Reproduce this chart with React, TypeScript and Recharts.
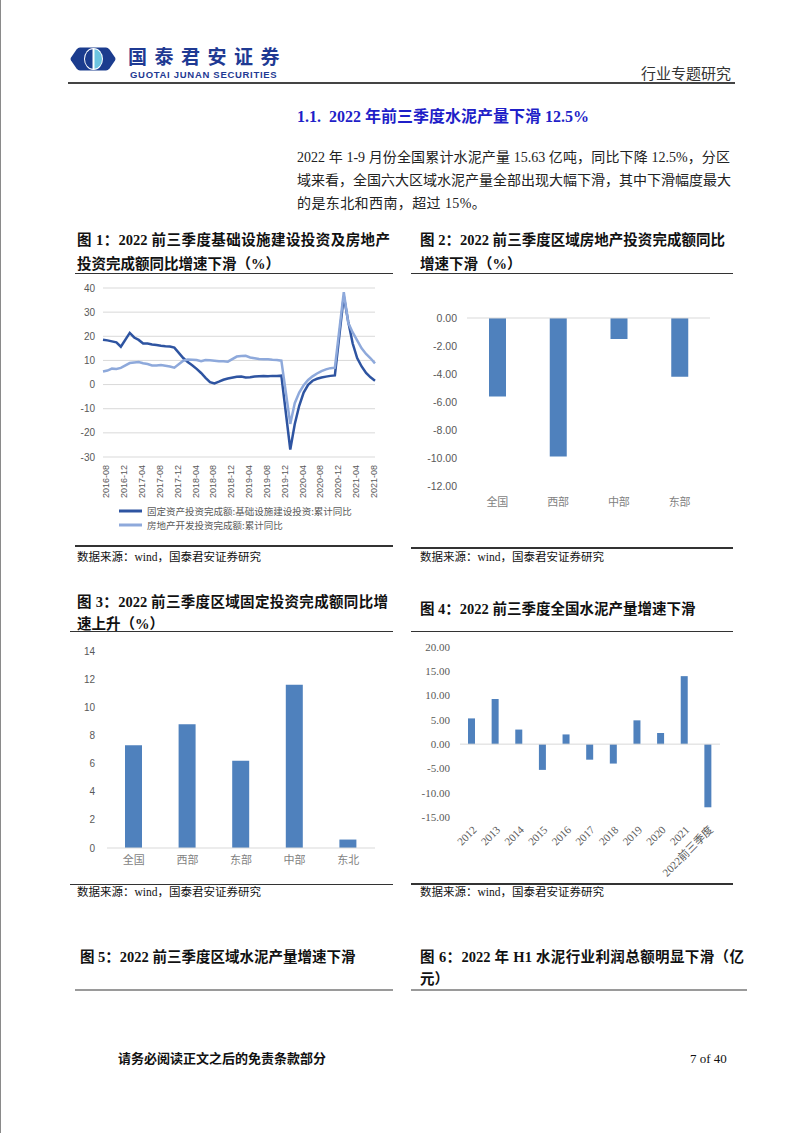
import React from 'react'
import {
  LineChart,
  Line,
  BarChart,
  Bar,
  XAxis,
  YAxis,
  CartesianGrid,
  Legend,
  ReferenceLine,
} from 'recharts'

const SERIF = "'Liberation Serif', 'Times New Roman', 'Noto Sans CJK SC', serif"
const SANS = "'Liberation Sans', Arial, 'Noto Sans CJK SC', sans-serif"
const CJK = "'Noto Sans CJK SC', 'Liberation Sans', sans-serif"

const DARK_BLUE = '#2E54A1'
const LIGHT_BLUE = '#8EA9DB'
const BAR_BLUE = '#4F81BD'
const AXIS_TEXT = '#595959'
const GRID = '#D9D9D9'

// 图1：月度累计同比（1月无数据）
const months = [
  '2016-08', '2016-09', '2016-10', '2016-11', '2016-12',
  '2017-01', '2017-02', '2017-03', '2017-04', '2017-05', '2017-06', '2017-07', '2017-08', '2017-09', '2017-10', '2017-11', '2017-12',
  '2018-01', '2018-02', '2018-03', '2018-04', '2018-05', '2018-06', '2018-07', '2018-08', '2018-09', '2018-10', '2018-11', '2018-12',
  '2019-01', '2019-02', '2019-03', '2019-04', '2019-05', '2019-06', '2019-07', '2019-08', '2019-09', '2019-10', '2019-11', '2019-12',
  '2020-01', '2020-02', '2020-03', '2020-04', '2020-05', '2020-06', '2020-07', '2020-08', '2020-09', '2020-10', '2020-11', '2020-12',
  '2021-01', '2021-02', '2021-03', '2021-04', '2021-05', '2021-06', '2021-07', '2021-08', '2021-09',
]
const infraYoY = [
  18.6, 18.3, 17.9, 17.5, 15.7,
  null, 21.4, 19.5, 18.5, 17.0, 17.0, 16.6, 16.4, 16.1, 15.9, 15.8, 15.3,
  null, 11.0, 9.3, 8.0, 6.5, 4.8, 2.8, 1.0, 0.5, 1.2, 2.0, 2.5,
  null, 3.2, 3.3, 2.9, 3.0, 3.3, 3.4, 3.5, 3.4, 3.6, 3.6, 3.7,
  null, -26.9, -16.4, -8.8, -3.3, -0.1, 1.6, 2.4, 2.9, 3.3, 3.6, 3.8,
  null, 36.6, 26.0, 17.0, 11.0, 7.5, 4.8, 3.0, 1.6,
]
const realtyYoY = [
  5.4, 5.8, 6.6, 6.5, 6.9,
  null, 8.9, 9.1, 9.3, 8.8, 8.5, 7.9, 7.9, 8.1, 7.8, 7.5, 7.0,
  null, 9.9, 10.4, 10.3, 10.2, 9.7, 10.2, 10.1, 9.9, 9.7, 9.7, 9.5,
  null, 11.6, 11.8, 11.9, 11.2, 10.9, 10.6, 10.5, 10.5, 10.3, 10.2, 9.9,
  null, -16.3, -7.7, -3.3, -0.3, 1.9, 3.4, 4.6, 5.6, 6.3, 6.8, 7.0,
  null, 38.3, 25.6, 21.6, 18.3, 15.0, 12.7, 10.9, 8.8,
]
const lineTicks = [-30, -20, -10, 0, 10, 20, 30, 40]

// 图2
const regions2 = ['全国', '西部', '中部', '东部']
const realtyByRegion = [-5.6, -9.9, -1.5, -4.2]
const ticks2 = [-12, -10, -8, -6, -4, -2, 0]

// 图3
const regions3 = ['全国', '西部', '东部', '中部', '东北']
const fixedInvByRegion = [7.3, 8.8, 6.2, 11.6, 0.6]
const ticks3 = [0, 2, 4, 6, 8, 10, 12, 14]

// 图4
const years4 = ['2012', '2013', '2014', '2015', '2016', '2017', '2018', '2019', '2020', '2021', '2022前三季度']
const cementYoY = [5.3, 9.3, 3.0, -5.3, 2.0, -3.2, -4.0, 4.9, 2.3, 14.0, -13.0]
const ticks4 = [-15, -10, -5, 0, 5, 10, 15, 20]

const lineData = months.map((m, i) => ({ month: m, infra: infraYoY[i], realty: realtyYoY[i] }))
const data2 = regions2.map((r, i) => ({ region: r, value: realtyByRegion[i] }))
const data3 = regions3.map((r, i) => ({ region: r, value: fixedInvByRegion[i] }))
const data4 = years4.map((y, i) => ({ year: y, value: cementYoY[i] }))

function T({
  x, y, w, size = 14, bold = false, color = '#111', family = SERIF, justify = false, spacing, lh = 1.2, children,
}: {
  x: number; y: number; w?: number; size?: number; bold?: boolean; color?: string
  family?: string; justify?: boolean; spacing?: number; lh?: number; children: React.ReactNode
}) {
  return (
    <div
      style={{
        position: 'absolute',
        left: x,
        top: y - (size * lh) / 2,
        width: w,
        fontSize: size,
        lineHeight: `${size * lh}px`,
        fontWeight: bold ? 700 : 400,
        color,
        fontFamily: family,
        whiteSpace: 'nowrap',
        letterSpacing: spacing,
        textAlign: justify ? 'justify' : 'left',
        textAlignLast: justify ? 'justify' : 'left',
      }}
    >
      {children}
    </div>
  )
}

function Rule({ x, y, w, h = 1.5, color = '#333' }: { x: number; y: number; w: number; h?: number; color?: string }) {
  return <div style={{ position: 'absolute', left: x, top: y, width: w, height: h, background: color }} />
}

function renderLegend(props: any) {
  const items = props.payload || []
  return (
    <div style={{ paddingLeft: 40, height: 34, paddingTop: 1, fontFamily: CJK, fontSize: 9.5, color: AXIS_TEXT }}>
      {items.map((it: any) => (
        <div key={it.value} style={{ display: 'flex', alignItems: 'center', height: 14 }}>
          <svg width={23} height={4}>
            <line x1={0} y1={2} x2={23} y2={2} stroke={it.color} strokeWidth={3} />
          </svg>
          <span style={{ marginLeft: 5 }}>{it.value}</span>
        </div>
      ))}
    </div>
  )
}

function Logo() {
  return (
    <svg width={46} height={24} style={{ position: 'absolute', left: 70, top: 47 }} viewBox="0 0 46 24">
      <path d="M10 0.5 L36 0.5 Q38 0.5 39.5 2.5 L45 10.5 Q46 12 45 13.5 L39.5 21.5 Q38 23.5 36 23.5 L10 23.5 Q8 23.5 6.5 21.5 L1 13.5 Q0 12 1 10.5 L6.5 2.5 Q8 0.5 10 0.5 Z" fill="#1B3C8E" />
      <ellipse cx={23.5} cy={12} rx={9.5} ry={11} fill="#FFFFFF" />
      <path d="M24.5 2.3 A7.5 9.7 0 0 1 24.5 21.7 Z" fill="#6CC4E0" />
      <path d="M22.5 2.3 A7.5 9.7 0 0 0 22.5 21.7 Z" fill="#1B3C8E" />
    </svg>
  )
}

export default function App() {
  const axisTick = { fontSize: 10, fill: AXIS_TEXT, fontFamily: SANS }
  return (
    <div style={{ position: 'absolute', left: 0, top: 0, width: 802, height: 1133, background: '#fff', overflow: 'hidden' }}>
      <div style={{ position: 'absolute', left: 0, top: 0, width: 1, height: 1133, background: '#8a8a8a' }} />

      {/* 页眉 */}
      <Logo />
      <T x={128} y={55.3} size={19} lh={1} bold color="#1F3A93" family={CJK} spacing={7.5}>国泰君安证券</T>
      <T x={130} y={74.6} size={9.5} lh={1} bold color="#1F3A93" family={SANS} spacing={0.7}>GUOTAI JUNAN SECURITIES</T>
      <T x={641} y={73} size={15} color="#333" family={CJK}>行业专题研究</T>
      <Rule x={68} y={82} w={667} h={2} color="#444" />

      {/* 标题与正文 */}
      <T x={297} y={117} size={16} bold color="#1F1FC8">1.1.&nbsp;&nbsp;2022 年前三季度水泥产量下滑 12.5%</T>
      <T x={297} y={158} w={433} size={14} justify color="#222">2022 年 1-9 月份全国累计水泥产量 15.63 亿吨，同比下降 12.5%，分区</T>
      <T x={297} y={181} w={433} size={14} justify color="#222">域来看，全国六大区域水泥产量全部出现大幅下滑，其中下滑幅度最大</T>
      <T x={297} y={204} size={14} color="#222" spacing={0.4}>的是东北和西南，超过 15%。</T>

      {/* 图1 */}
      <T x={77} y={241} w={313} size={14.5} bold justify>图 1：2022 前三季度基础设施建设投资及房地产</T>
      <T x={77} y={265} size={14.5} bold>投资完成额同比增速下滑（%）</T>
      <Rule x={75} y={272.5} w={318} />
      <div style={{ position: 'absolute', left: 75, top: 280 }}>
        <LineChart width={320} height={262} data={lineData} margin={{ top: 8, right: 20, left: 4, bottom: 4 }}>
          <CartesianGrid vertical={false} stroke={GRID} />
          <XAxis
            dataKey="month"
            interval={3}
            angle={-90}
            textAnchor="end"
            height={46}
            tickLine={false}
            axisLine={false}
            tick={{ fontSize: 9, fill: AXIS_TEXT, fontFamily: SANS }}
          />
          <YAxis
            domain={[-30, 40]}
            ticks={lineTicks}
            interval={0}
            width={24}
            tickLine={false}
            axisLine={false}
            tick={axisTick}
          />
          <Legend verticalAlign="bottom" align="left" content={renderLegend} />
          <Line
            type="linear"
            dataKey="infra"
            name="固定资产投资完成额:基础设施建设投资:累计同比"
            stroke={DARK_BLUE}
            strokeWidth={2.5}
            dot={false}
            connectNulls
            isAnimationActive={false}
          />
          <Line
            type="linear"
            dataKey="realty"
            name="房地产开发投资完成额:累计同比"
            stroke={LIGHT_BLUE}
            strokeWidth={2.5}
            dot={false}
            connectNulls
            isAnimationActive={false}
          />
        </LineChart>
      </div>
      <Rule x={75} y={545} w={318} />
      <T x={77} y={558} size={11.5}>数据来源：wind，国泰君安证券研究</T>

      {/* 图2 */}
      <T x={420} y={241} w={305} size={14.5} bold justify>图 2：2022 前三季度区域房地产投资完成额同比</T>
      <T x={420} y={265} size={14.5} bold>增速下滑（%）</T>
      <Rule x={411} y={272.5} w={322} />
      <div style={{ position: 'absolute', left: 405, top: 280 }}>
        <BarChart width={330} height={240} data={data2} margin={{ top: 38, right: 25, left: 0, bottom: 4 }}>
          <XAxis
            dataKey="region"
            height={30}
            tickLine={false}
            axisLine={false}
            tickMargin={6}
            tick={{ fontSize: 11, fill: '#7F7F7F', fontFamily: CJK }}
          />
          <YAxis
            domain={[-12, 0]}
            ticks={ticks2}
            interval={0}
            width={62}
            tickMargin={4}
            tickFormatter={(v: number) => v.toFixed(2)}
            tickLine={false}
            axisLine={false}
            tick={{ ...axisTick, fontSize: 10.5 }}
          />
          <ReferenceLine y={0} stroke={GRID} />
          <Bar dataKey="value" fill={BAR_BLUE} barSize={17} isAnimationActive={false} />
        </BarChart>
      </div>
      <Rule x={411} y={547} w={322} />
      <T x={420} y={558} size={11.5}>数据来源：wind，国泰君安证券研究</T>

      {/* 图3 */}
      <T x={77} y={603} w={311} size={14.5} bold justify>图 3：2022 前三季度区域固定投资完成额同比增</T>
      <T x={77} y={625} size={14.5} bold>速上升（%）</T>
      <Rule x={70} y={630.5} w={323} />
      <div style={{ position: 'absolute', left: 70, top: 640 }}>
        <BarChart width={325} height={240} data={data3} margin={{ top: 11, right: 20, left: 0, bottom: 4 }}>
          <XAxis
            dataKey="region"
            height={28}
            tickLine={false}
            axisLine={{ stroke: GRID }}
            tick={{ fontSize: 11, fill: '#7F7F7F', fontFamily: CJK }}
          />
          <YAxis
            domain={[0, 14]}
            ticks={ticks3}
            interval={0}
            width={37}
            tickMargin={6}
            tickLine={false}
            axisLine={false}
            tick={axisTick}
          />
          <Bar dataKey="value" fill={BAR_BLUE} barSize={17} isAnimationActive={false} />
        </BarChart>
      </div>
      <Rule x={70} y={883.5} w={323} />
      <T x={77} y={893} size={11.5}>数据来源：wind，国泰君安证券研究</T>

      {/* 图4 */}
      <T x={420} y={610} size={14.5} bold>图 4：2022 前三季度全国水泥产量增速下滑</T>
      <Rule x={411} y={630.5} w={322} />
      <div style={{ position: 'absolute', left: 405, top: 640 }}>
        <BarChart width={330} height={240} data={data4} margin={{ top: 7, right: 15, left: 0, bottom: 2 }}>
          <XAxis
            dataKey="year"
            interval={0}
            angle={-45}
            textAnchor="end"
            height={61}
            tickLine={false}
            axisLine={false}
            tick={{ fontSize: 11, fill: AXIS_TEXT, fontFamily: SERIF }}
          />
          <YAxis
            domain={[-15, 20]}
            ticks={ticks4}
            interval={0}
            width={55}
            tickMargin={4}
            tickFormatter={(v: number) => v.toFixed(2)}
            tickLine={false}
            axisLine={false}
            tick={{ fontSize: 11, fill: AXIS_TEXT, fontFamily: SERIF }}
          />
          <ReferenceLine y={0} stroke={GRID} />
          <Bar dataKey="value" fill={BAR_BLUE} barSize={7} isAnimationActive={false} />
        </BarChart>
      </div>
      <Rule x={411} y={883} w={322} />
      <T x={420} y={893} size={11.5}>数据来源：wind，国泰君安证券研究</T>

      {/* 图5 / 图6 标题 */}
      <T x={80} y={958} size={14.5} bold>图 5：2022 前三季度区域水泥产量增速下滑</T>
      <Rule x={75} y={989} w={318} h={2} color="#9a9a9a" />
      <T x={420} y={958} w={324} size={14.5} bold justify>图 6：2022 年 H1 水泥行业利润总额明显下滑（亿</T>
      <T x={420} y={980} size={14.5} bold>元）</T>
      <Rule x={411} y={989} w={336} h={2} color="#9a9a9a" />

      {/* 页脚 */}
      <T x={118} y={1059} size={13} bold>请务必阅读正文之后的免责条款部分</T>
      <T x={690} y={1059} size={13}>7 of 40</T>
    </div>
  )
}
